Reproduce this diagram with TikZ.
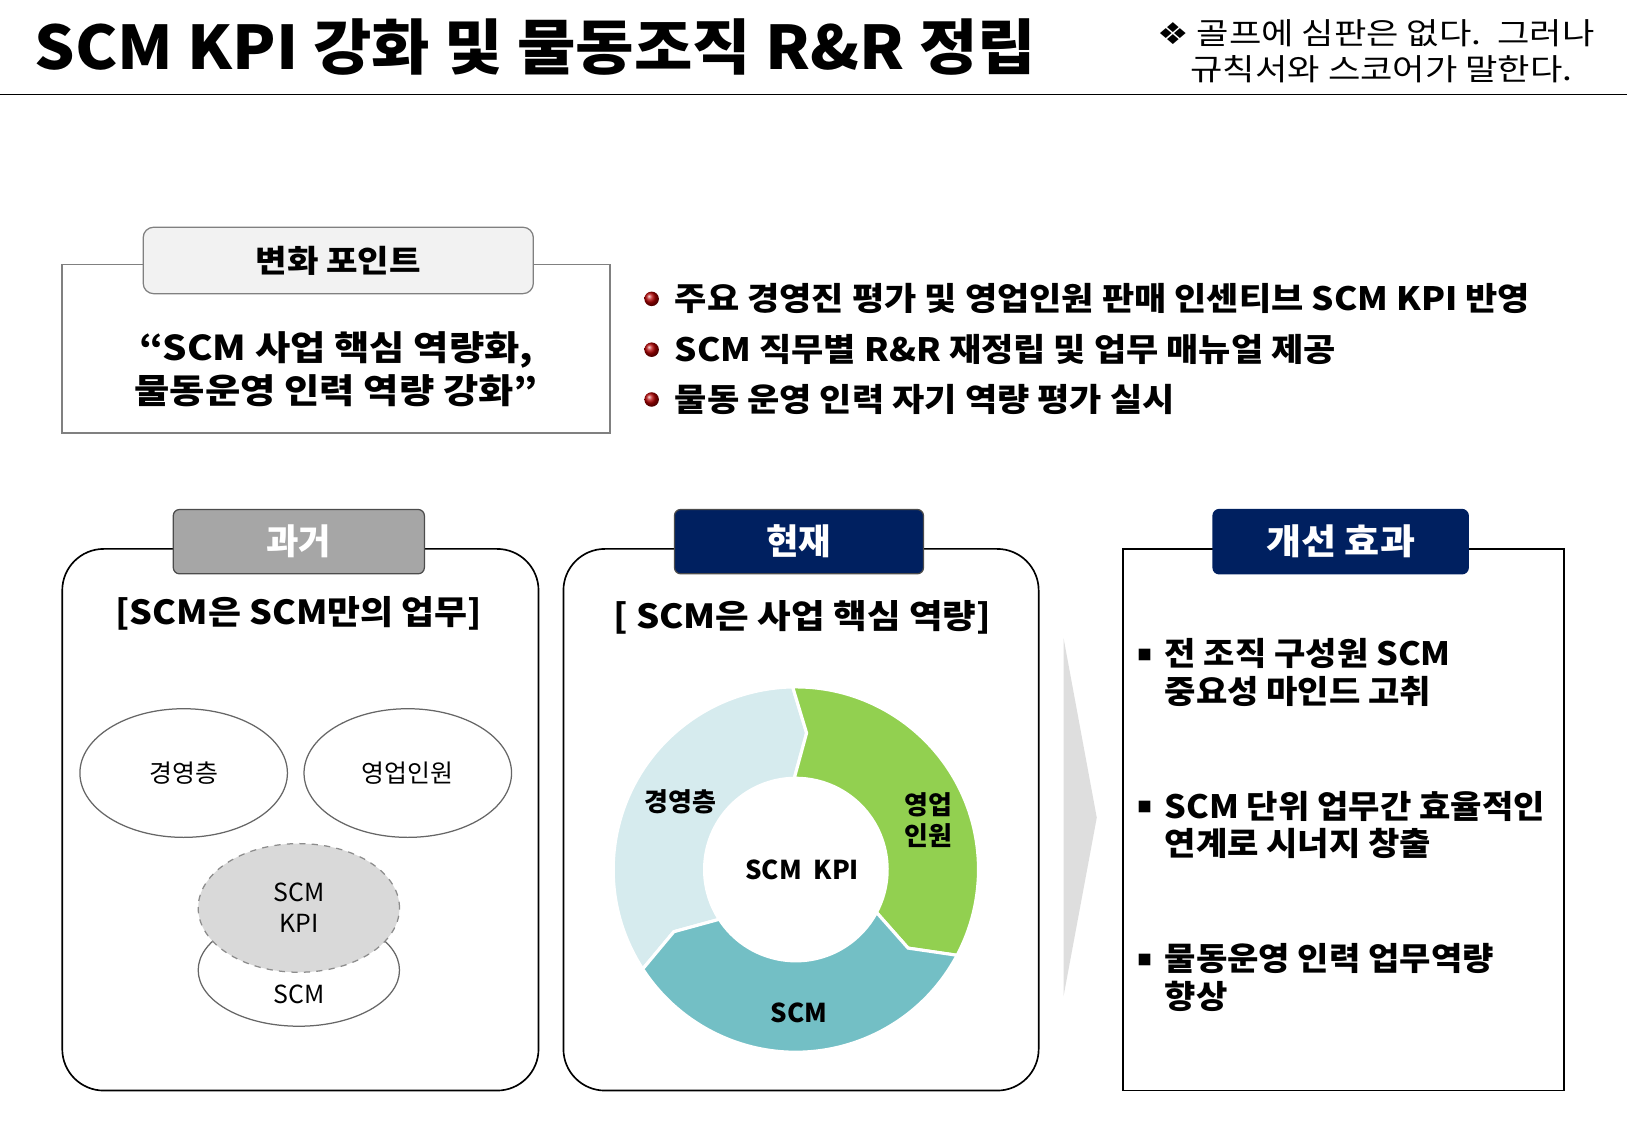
\documentclass[tikz,border=0pt]{standalone}
\usepackage{fontspec}
\usetikzlibrary{shapes.geometric}
\setmainfont{Noto Sans CJK KR}
\newfontfamily\sym{DejaVu Sans}
\definecolor{navy}{HTML}{002060}
\definecolor{lb}{HTML}{D6EBEE}
\definecolor{gr}{HTML}{92D050}
\definecolor{tl}{HTML}{73BFC5}
\newcommand{\wx}[2]{\scalebox{#1}[1]{#2}}
\tikzset{
 bt/.style={font=\bfseries\fontsize{15.5}{19}\selectfont, anchor=west, inner sep=0},
 panel/.style={draw=black, line width=0.8pt, rounded corners=20pt},
 tabbox/.style={draw=black!70, line width=0.6pt, rounded corners=3pt, font=\bfseries\fontsize{17}{20}\selectfont, text=white},
 ell/.style={draw=black!60, line width=0.6pt, fill=white, font=\fontsize{12}{15}\selectfont, align=center},
 dl/.style={font=\bfseries\fontsize{12.5}{15}\selectfont, align=center},
 seg/.style={draw=white, line width=1.5pt},
 ball/.style={circle, inner sep=0, minimum size=7pt, shading=ball, ball color=red!70!black}
}
\begin{document}
\begin{tikzpicture}[x=0.5pt,y=-0.5pt]
\useasboundingbox (0,0) rectangle (1568,1088);
% title
\node[anchor=west, inner sep=0, font=\bfseries\fontsize{29}{34}\selectfont] (title) at (33,45) {\wx{1.055}{SCM KPI 강화 및 물동조직 R\&R 정립}};
\draw[line width=0.8pt] (0,91) -- (1568,91);
\node[anchor=west, inner sep=0, font=\fontsize{14.5}{17}\selectfont] (q1) at (1115,32) {\wx{1.17}{{\sym ❖} 골프에 심판은 없다.\ \ 그러나}};
\node[anchor=west, inner sep=0, font=\fontsize{14.5}{17}\selectfont] (q2) at (1147,67) {\wx{1.17}{규칙서와 스코어가 말한다.}};
% change point
\draw[draw=black!50, line width=0.8pt] (60,255) rectangle (588,417);
\node[draw=black!50, fill=black!5, line width=0.6pt, rounded corners=5pt, minimum width=188pt, minimum height=32pt, font=\bfseries\fontsize{15}{18}\selectfont] (cp) at (326,251) {\wx{1.1}{변화 포인트}};
\node[font=\bfseries\fontsize{16.5}{21}\selectfont, align=center] (quote) at (324,356) {\wx{1.12}{“SCM 사업 핵심 역량화,}\\\wx{1.12}{물동운영 인력 역량 강화”}};
\foreach \y/\t [count=\i] in {288/주요 경영진 평가 및 영업인원 판매 인센티브 SCM KPI 반영, 337/SCM 직무별 R\&R 재정립 및 업무 매뉴얼 제공, 385/물동 운영 인력 자기 역량 평가 실시}{
 \node[ball] (b\i) at (628,\y) {};
 \node[bt] (t\i) at (650,\y) {\wx{1.09}{\t}};
}
% panels
\draw[panel] (60,529) rectangle (519,1051);
\draw[panel] (543,529) rectangle (1001,1051);
\draw[line width=0.8pt] (1082,529) rectangle (1507,1051);
\node[tabbox, fill=black!35, minimum width=121pt, minimum height=31pt] (past) at (288,522) {과거};
\node[tabbox, fill=navy, minimum width=120pt, minimum height=31pt] (now) at (770,522) {현재};
\node[tabbox, fill=navy, draw=navy, minimum width=123pt, minimum height=31pt] (eff) at (1292,522) {\wx{1.08}{개선 효과}};
\node[font=\bfseries\fontsize{16}{19}\selectfont] (h1) at (288,591) {\wx{1.08}{[SCM은 SCM만의 업무]}};
\node[font=\bfseries\fontsize{16}{19}\selectfont] (h2) at (773,595) {\wx{1.1}{[ SCM은 사업 핵심 역량]}};
% ellipses
\node[ell, ellipse, minimum width=100pt, minimum height=62pt] (e1) at (177,745) {경영층};
\node[ell, ellipse, minimum width=100pt, minimum height=62pt] (e2) at (393,745) {영업인원};
\node[ell, ellipse, minimum width=97pt, minimum height=54pt] (e3) at (288,935) {};
\node[font=\fontsize{12}{15}\selectfont] (scm) at (288,958) {SCM};
\node[ell, ellipse, fill=black!15, dashed, draw=black!45, minimum width=97pt, minimum height=62pt] (e4) at (288,875) {SCM\\KPI};
% donut
\begin{scope}[shift={(767,838)}, x=0.5pt, y=0.5pt]
\def\ro{176}\def\ri{88}\def\rm{132}
\foreach \s/\e/\c/\ds/\de in {213/91/lb/6/5.5, 91/-28/gr/5.5/7, -28/-147/tl/7/6}{
 \fill[\c, seg] (\s:\ro) arc[start angle=\s, end angle=\e, radius=\ro] -- (\e-\de:\rm) -- (\e:\ri) arc[start angle=\e, end angle=\s, radius=\ri] -- (\s-\ds:\rm) -- cycle;
}
\fill[white] (0,0) circle (\ri-1);
\end{scope}
\node[dl] (d1) at (656,773) {경영층};
\node[dl] (d2) at (895,790) {영업\\인원};
\node[dl] (d3) at (773,838) {SCM\ \ KPI};
\node[dl] (d4) at (770,976) {SCM};
% chevron
\fill[black!13] (1025,615) -- (1057,788) -- (1025,960) -- cycle;
% effects
\foreach \y/\ta/\tb [count=\i] in {648/전 조직 구성원 SCM/중요성 마인드 고취, 795/SCM 단위 업무간 효율적인/연계로 시너지 창출, 942/물동운영 인력 업무역량/향상}{
 \node[font=\bfseries\fontsize{7}{9}\selectfont] (s\i) at (1103,\y-17) {■};
 \node[bt, align=left, font=\bfseries\fontsize{15.5}{18}\selectfont] (f\i) at (1122,\y) {\wx{1.06}{\ta}\\\wx{1.06}{\tb}};
}
\end{tikzpicture}
\end{document}
